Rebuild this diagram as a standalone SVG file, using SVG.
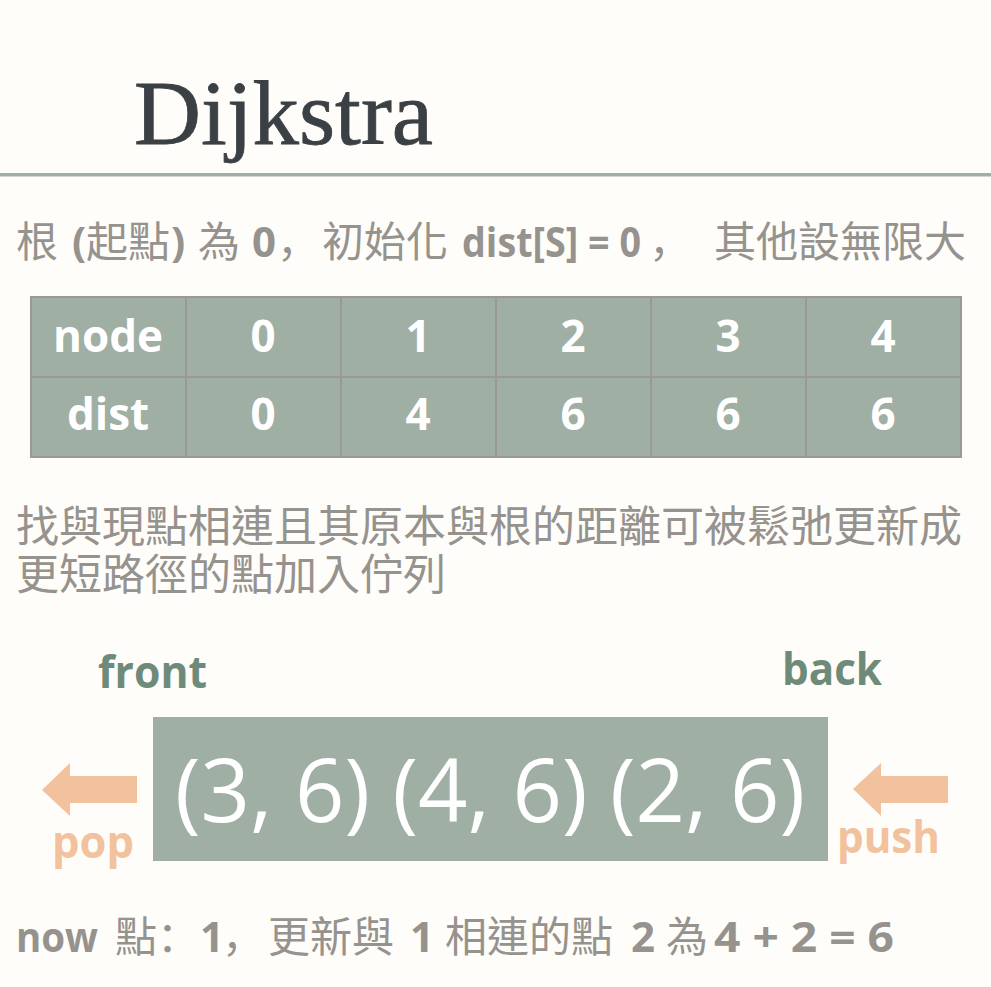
<svg xmlns="http://www.w3.org/2000/svg" width="991" height="987" viewBox="0 0 991 987">
<style>
.bg{fill:#FEFDF9}
.cjk{font-family:"Noto Sans CJK TC","Noto Sans CJK JP",sans-serif;font-weight:400}
.pun{font-family:"Noto Sans CJK SC",sans-serif;font-weight:400}
.lat{font-family:"Open Sans","Noto Sans",sans-serif;font-weight:700}
.gray{fill:#96928D}
.cell{fill:#9FAFA3;stroke:#9A9994;stroke-width:2}
.tt{font-family:"Open Sans","Noto Sans",sans-serif;font-weight:700;font-size:44px;fill:#FFFFFF;text-anchor:middle}
.lbl{font-family:"Open Sans","Noto Sans",sans-serif;font-weight:700;font-size:44px}
.green{fill:#6E8B79}
.orange{fill:#F2C19D}
</style>
<rect class="bg" x="0" y="0" width="991" height="987"/>

<g id="title">
<text x="134" y="144" font-family="Liberation Serif, serif" font-size="92" fill="#3B4045" stroke="#3B4045" stroke-width="0.8" textLength="299" lengthAdjust="spacingAndGlyphs">Dijkstra</text>
<rect x="0" y="173" width="991" height="3.5" fill="#A1B0A5"/>
</g>

<g id="line1" class="gray" font-size="42">
<text y="257"><tspan class="cjk" x="16">根</tspan><tspan class="lat" x="72">(</tspan><tspan class="cjk" x="86">起點</tspan><tspan class="lat" x="171">)</tspan><tspan class="cjk" x="198">為</tspan><tspan class="lat" x="252">0</tspan><tspan class="pun" x="277">，</tspan><tspan class="cjk" x="322">初始化</tspan><tspan class="lat" x="462" textLength="179" lengthAdjust="spacingAndGlyphs">dist[S] = 0</tspan><tspan class="pun" x="649">，</tspan><tspan class="cjk" x="714">其他設無限大</tspan></text>
</g>

<g id="table">
<rect class="cell" x="31" y="297" width="155" height="80"/>
<rect class="cell" x="186" y="297" width="155" height="80"/>
<rect class="cell" x="341" y="297" width="155" height="80"/>
<rect class="cell" x="496" y="297" width="155" height="80"/>
<rect class="cell" x="651" y="297" width="155" height="80"/>
<rect class="cell" x="806" y="297" width="155" height="80"/>
<rect class="cell" x="31" y="377" width="155" height="80"/>
<rect class="cell" x="186" y="377" width="155" height="80"/>
<rect class="cell" x="341" y="377" width="155" height="80"/>
<rect class="cell" x="496" y="377" width="155" height="80"/>
<rect class="cell" x="651" y="377" width="155" height="80"/>
<rect class="cell" x="806" y="377" width="155" height="80"/>
<text class="tt" x="108" y="352">node</text>
<text class="tt" x="263" y="352">0</text>
<text class="tt" x="418" y="352">1</text>
<text class="tt" x="573" y="352">2</text>
<text class="tt" x="728" y="352">3</text>
<text class="tt" x="883" y="352">4</text>
<text class="tt" x="108" y="430">dist</text>
<text class="tt" x="263" y="430">0</text>
<text class="tt" x="418" y="430">4</text>
<text class="tt" x="573" y="430">6</text>
<text class="tt" x="728" y="430">6</text>
<text class="tt" x="883" y="430">6</text>
</g>

<g id="paragraph" class="gray cjk" font-size="43">
<text x="16" y="542">找與現點相連且其原本與根的距離可被鬆弛更新成</text>
<text x="16" y="590">更短路徑的點加入佇列</text>
</g>

<g id="front"><text class="lbl green" x="98" y="688" textLength="109" lengthAdjust="spacingAndGlyphs">front</text></g>
<g id="back"><text class="lbl green" x="782" y="685" textLength="100" lengthAdjust="spacingAndGlyphs">back</text></g>

<g id="queue">
<rect x="153" y="717" width="675" height="144" fill="#9FAFA3"/>
<text x="175" y="822" font-family="Open Sans, Noto Sans, sans-serif" font-size="88" fill="#FFFFFF" textLength="630" lengthAdjust="spacingAndGlyphs">(3, 6) (4, 6) (2, 6)</text>
</g>

<g id="connectors">
<polygon class="orange" points="42,790 70,763 70,776 137,776 137,803 70,803 70,816"/>
<polygon class="orange" points="853,789 881,763 881,776 948,776 948,803 881,803 881,816"/>
</g>

<g id="pop"><text class="lbl orange" x="52" y="858" textLength="82" lengthAdjust="spacingAndGlyphs">pop</text></g>
<g id="push"><text class="lbl orange" x="837" y="853" textLength="103" lengthAdjust="spacingAndGlyphs">push</text></g>

<g id="status" class="gray" font-size="42">
<text y="952"><tspan class="lat" x="16" textLength="82" lengthAdjust="spacingAndGlyphs">now</tspan><tspan class="cjk" x="115">點</tspan><tspan class="pun" x="157">：</tspan><tspan class="lat" x="200">1</tspan><tspan class="pun" x="222">，</tspan><tspan class="cjk" x="268">更新與</tspan><tspan class="lat" x="410">1</tspan><tspan class="cjk" x="445">相連的點</tspan><tspan class="lat" x="631">2</tspan><tspan class="cjk" x="666">為</tspan><tspan class="lat" x="714" textLength="180" lengthAdjust="spacingAndGlyphs">4 + 2 = 6</tspan></text>
</g>
</svg>
